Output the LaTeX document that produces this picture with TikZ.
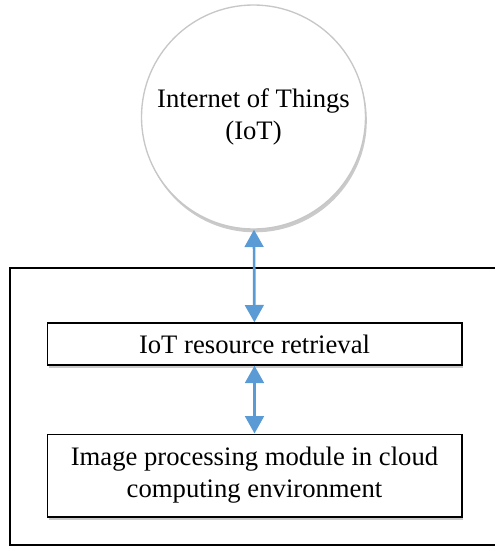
\documentclass[tikz,border=0pt]{standalone}
\usepackage{fontspec}
\setmainfont{Liberation Serif}
\usetikzlibrary{arrows.meta,shadows}

\begin{document}
\begin{tikzpicture}[x=0.75pt,y=-0.75pt,
  font=\fontsize{20}{24}\selectfont,
  shade/.style={drop shadow={opacity=0.35,fill=black!60,shadow xshift=1pt,shadow yshift=-2.5pt}},
  cloud/.style={circle,draw=black!22,line width=1pt,fill=white,minimum size=168pt,align=center,shade},
  block/.style={rectangle,draw=black,line width=1pt,fill=white,minimum width=311pt,align=center,shade},
  link/.style={{Triangle[width=14pt,length=13pt]}-{Triangle[width=14pt,length=13pt]},draw={rgb,255:red,91;green,155;blue,213},line width=2pt}]
\useasboundingbox (0,0) rectangle (494,546);
\draw[line width=1pt] (10,268) rectangle (520,545);
\node[cloud] at (253.5,117) (iot) {Internet of Things\\(IoT)}; \node[block,minimum height=31.5pt] at (254.5,344) (ret) {IoT resource retrieval}; \node[block,minimum height=62pt] at (254.5,475.5) (img) {Image processing module in cloud\\computing environment};

\draw[link] (iot) -- (ret);
\draw[link] (ret) -- (img);
\end{tikzpicture}
\end{document}
